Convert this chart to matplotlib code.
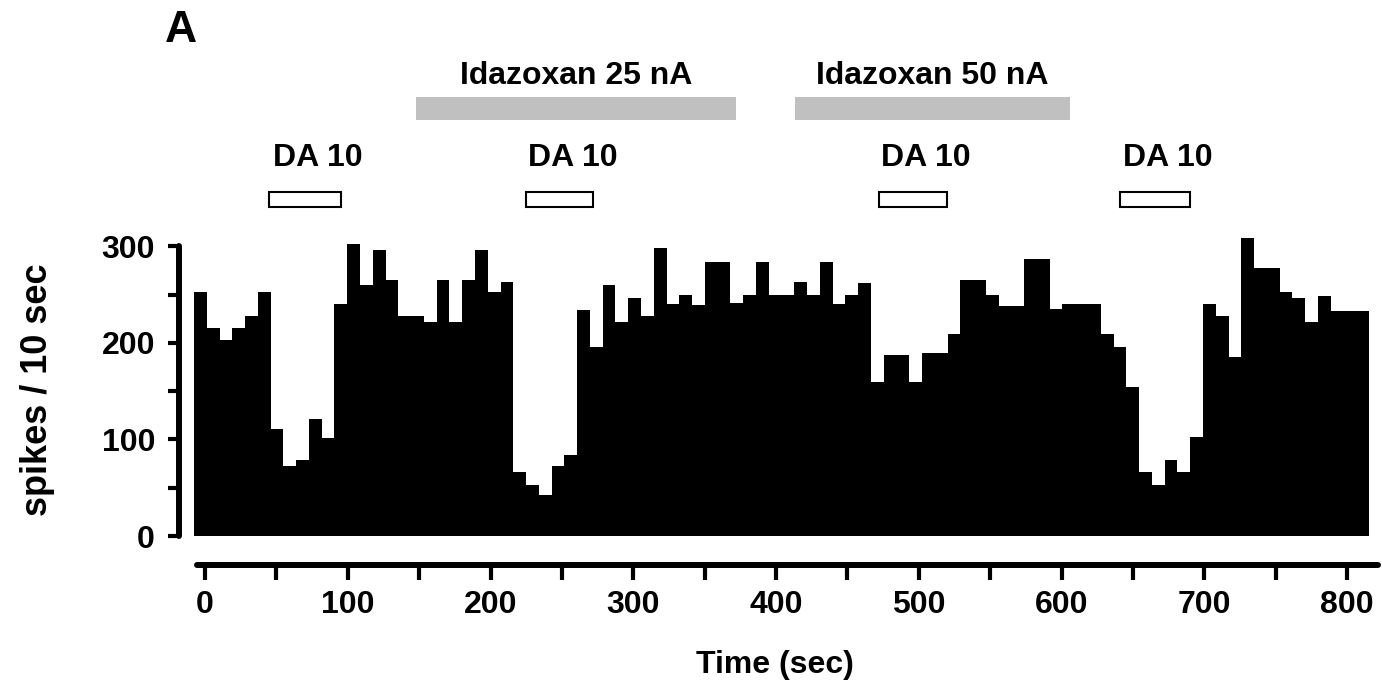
import numpy as np
from matplotlib import pyplot as plt
from matplotlib.patches import Rectangle

plt.rcParams['font.family'] = ['Liberation Sans', 'DejaVu Sans']
plt.rcParams['font.weight'] = 'bold'

# spikes per 10 s bin
counts = [253, 215, 203, 215, 228, 253, 111, 72, 79, 121, 101, 240, 302, 260, 296, 265, 228, 228, 222, 265, 222, 265,
          296, 253, 263, 66, 53, 42, 72, 84, 234, 196, 260, 222, 246, 228, 298, 240, 250, 239, 284, 284, 241, 249,
          284, 250, 250, 263, 250, 284, 240, 250, 262, 159,
          187, 187, 159, 189, 189, 209, 265, 265, 249, 238, 238, 287, 287,
          235, 240, 240, 240, 209, 196, 154, 66, 53, 79, 66, 103, 240, 228, 185, 308, 277, 277, 253, 246, 222, 248,
          233, 233, 233]

# drug applications (sec)
da_starts = [45, 225, 472, 641]
da_ends = [95, 272, 520, 690]
da_labels = ['DA 10', 'DA 10', 'DA 10', 'DA 10']
ida_starts = [148, 413]
ida_ends = [372, 606]
ida_labels = ['Idazoxan 25 nA', 'Idazoxan 50 nA']

time_ticks = np.arange(0, 801, 50)
y_ticks = np.arange(0, 301, 50)

W, H = 1382, 698
fig = plt.figure(figsize=(W / 100, H / 100), dpi=100)
fs = 23

# histogram
ax = fig.add_axes([194 / W, (H - 536) / H, 1175 / W, 320 * 0.966 / H])
ax.stairs(counts, np.arange(len(counts) + 1), fill=True, color='black', linewidth=0)
ax.set_xlim(0, len(counts))
ax.set_ylim(0, 320)
for s in ['top', 'right', 'bottom']:
    ax.spines[s].set_visible(False)
ax.spines['left'].set_position(('outward', 11))
ax.spines['left'].set_bounds(0, 300)
ax.spines['left'].set_linewidth(4.3)
ax.spines['left'].set_capstyle('round')
ax.set_xticks([])
ax.set_yticks(y_ticks)
ax.set_yticklabels([str(v) if v % 100 == 0 else '' for v in y_ticks])
ax.tick_params(axis='y', length=8, width=3, pad=9, labelsize=fs)

# time axis, drawn separately below the histogram
tx0, tx1 = -5.6, 821.7
ax2 = fig.add_axes([197 / W, (H - 565) / H, 1181 / W, 0.0001])
ax2.set_xlim(tx0, tx1)
for s in ['top', 'right', 'left']:
    ax2.spines[s].set_visible(False)
ax2.spines['bottom'].set_linewidth(4.3)
ax2.spines['bottom'].set_capstyle('round')
ax2.set_yticks([])
ax2.set_xticks(time_ticks)
ax2.set_xticklabels([str(v) if v % 100 == 0 else '' for v in time_ticks])
ax2.tick_params(axis='x', length=11, width=3, pad=7, labelsize=fs)

# drug bars on top
ax3 = fig.add_axes([197 / W, (H - 215) / H, 1181 / W, 215 / H])
ax3.set_xlim(tx0, tx1)
ax3.set_ylim(215, 0)
ax3.axis('off')
for a, b, lab in zip(ida_starts, ida_ends, ida_labels):
    ax3.add_patch(Rectangle((a, 97), b - a, 23, facecolor='#c0c0c0', edgecolor='none'))
    ax3.text((a + b) / 2, 76, lab, ha='center', va='center', fontsize=fs)
for a, b, lab in zip(da_starts, da_ends, da_labels):
    ax3.add_patch(Rectangle((a, 192), b - a, 15, facecolor='white', edgecolor='black', linewidth=1.5))
    ax3.text((a + b) / 2 + 9, 158, lab, ha='center', va='center', fontsize=fs)

fig.text(181 / W, 1 - 30 / H, 'A', ha='center', va='center', fontsize=32)
fig.text(38 / W, 1 - 390 / H, 'spikes / 10 sec', rotation=90, ha='center', va='center', fontsize=26)
fig.text(775 / W, 1 - 665 / H, 'Time (sec)', ha='center', va='center', fontsize=fs)

fig.savefig('out.png', dpi=100)
